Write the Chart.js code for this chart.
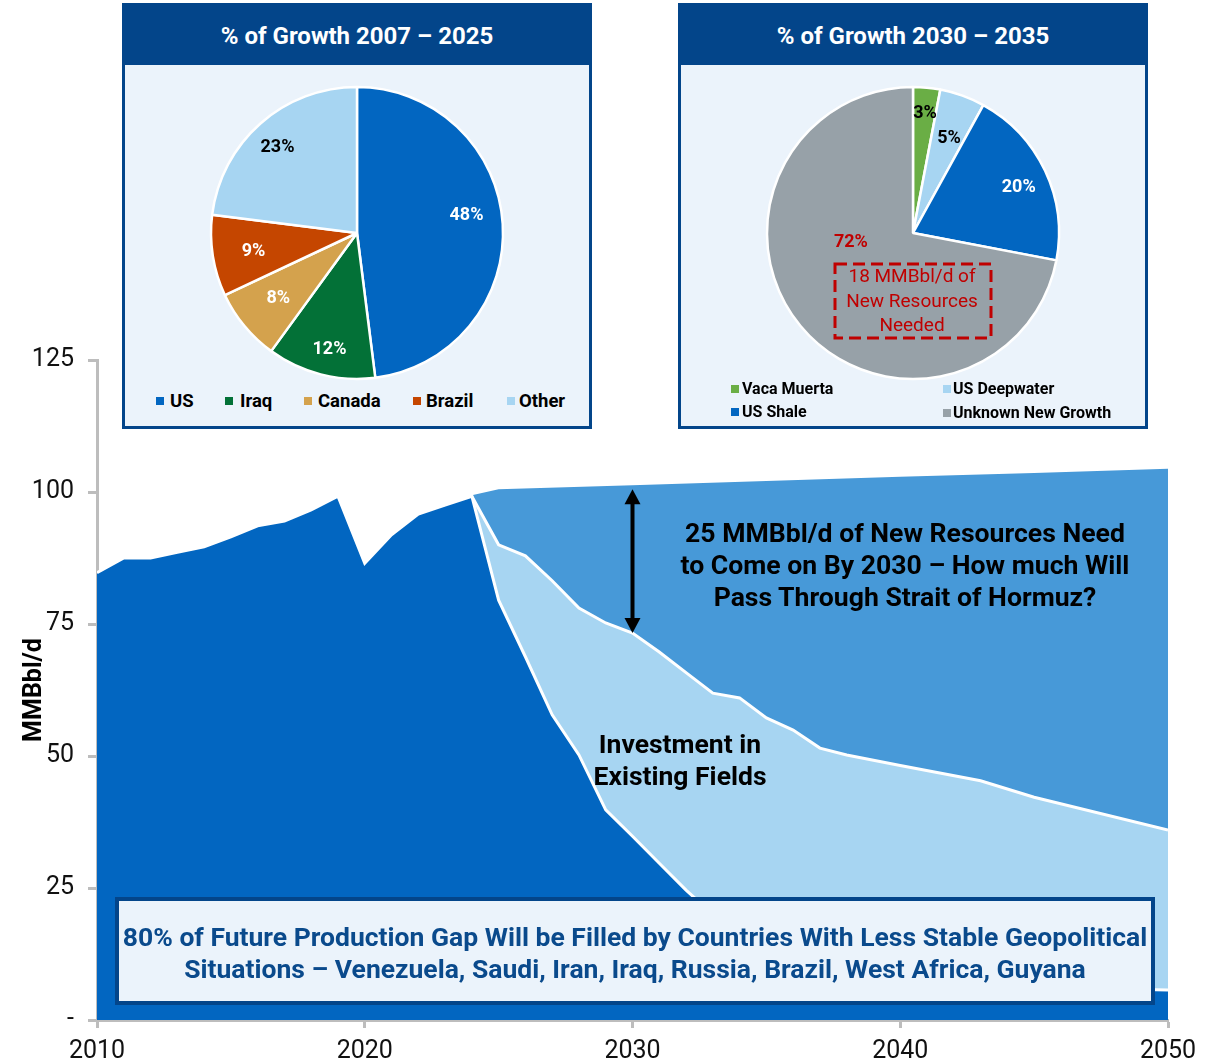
<!DOCTYPE html>
<html>
<head>
<meta charset="utf-8">
<script src="https://cdn.jsdelivr.net/npm/chart.js@4.4.1/dist/chart.umd.min.js"></script>
<style>
  html, body { margin: 0; padding: 0; background: #fff; }
  body { width: 1221px; height: 1064px; position: relative; overflow: hidden; font-family: Roboto, "Liberation Sans", sans-serif; }
  #main { position: absolute; left: 0; top: 0; }
  .note { position: absolute; text-align: center; font-weight: 700; color: #000; white-space: nowrap; }
  .panel { position: absolute; top: 3px; width: 464px; height: 420px; background: #EBF3FB; border: 3px solid #03458A; }
  .panel .head { position: absolute; left: 0; top: 0; right: 0; height: 59px; background: #03458A; color: #fff;
                 font-weight: 700; font-size: 24px; line-height: 60px; text-align: center; }
  .pie { position: absolute; }
  .leg { position: absolute; font-weight: 700; color: #000; white-space: nowrap; }
  .leg i { position: absolute; width: 8px; height: 8px; }
  .callout { position: absolute; left: 115px; top: 897px; width: 1032px; height: 100px; background: #EBF3FB;
             border: 4px solid #03458A; }
  .callout div { position: absolute; left: -20px; right: -20px; top: 20px; text-align: center; font-weight: 700; font-size: 26.5px;
                 line-height: 32px; color: #0A4A8C; white-space: nowrap; }
  .dashbox { position: absolute; left: 833px; top: 262px; }
  .dashtext { position: absolute; left: 812px; top: 264px; width: 200px; text-align: center; color: #C00000;
              font-size: 19px; line-height: 24.5px; white-space: nowrap; }
</style>
</head>
<body>
<canvas id="main" width="1221" height="1064"></canvas>

<div class="note" style="left:605px; top:517px; width:600px; font-size:26.6px; line-height:32px;">25 MMBbl/d of New Resources Need<br>to Come on By 2030 – How much Will<br>Pass Through Strait of Hormuz?</div>
<div class="note" style="left:530px; top:728px; width:300px; font-size:26.5px; line-height:32px;">Investment in<br>Existing Fields</div>

<div class="callout"><div>80% of Future Production Gap Will be Filled by Countries With Less Stable Geopolitical<br>Situations – Venezuela, Saudi, Iran, Iraq, Russia, Brazil, West Africa, Guyana</div></div>

<div class="panel" style="left:122px;"><div class="head">% of Growth 2007 – 2025</div></div>
<div class="panel" style="left:678px;"><div class="head">% of Growth 2030 – 2035</div></div>

<canvas id="pieA" class="pie" width="310" height="310" style="left:202px; top:78px;"></canvas>
<canvas id="pieB" class="pie" width="310" height="310" style="left:758px; top:78px;"></canvas>

<div id="legA"></div>
<div id="legB"></div>

<svg class="dashbox" width="160" height="78" viewBox="0 0 160 78">
  <rect x="2" y="2" width="156" height="74" fill="none" stroke="#C00000" stroke-width="3" stroke-dasharray="12 6"/>
</svg>
<div class="dashtext">18 MMBbl/d of<br>New Resources<br>Needed</div>

<script>
// ---- Global oil supply outlook (MMBbl/d) ----
const historyYears = [2010, 2011, 2012, 2013, 2014, 2015, 2016, 2017, 2018, 2019, 2020, 2021, 2022, 2023, 2024];
const historyOutput = [84.7, 87.5, 87.5, 88.6, 89.6, 91.5, 93.6, 94.5, 96.6, 99.2, 86.5, 91.9, 95.8, 97.5, 99.2];

// existing fields with no further investment
const declineYears = [2025, 2026, 2027, 2028, 2029, 2030, 2031, 2032, 2033, 2034, 2035, 2036, 2037, 2038, 2040, 2045, 2050];
const declineOutput = [79.5, 68.8, 57.8, 50.2, 39.8, 34.8, 29.7, 24.6, 20.0, 16.0, 12.5, 10.0, 8.5, 7.5, 6.8, 6.2, 5.7];

// existing fields with continued investment
const investedYears = [2024, 2025, 2026, 2027, 2028, 2029, 2030, 2031, 2032, 2033, 2034, 2035, 2036, 2037, 2038, 2040, 2043, 2045, 2050];
const investedOutput = [99.2, 90.0, 87.9, 83.2, 78.0, 75.2, 73.3, 69.7, 65.8, 61.9, 61.0, 57.2, 54.9, 51.5, 50.2, 48.2, 45.3, 42.2, 36.0];

// required supply
const demandYears = [2024, 2025, 2030, 2035, 2040, 2045, 2050];
const demandOutput = [99.4, 100.5, 101.3, 102.1, 102.9, 103.6, 104.4];

const yTicks = [0, 25, 50, 75, 100, 125];
const xTicks = [2010, 2020, 2030, 2040, 2050];
const gapYear = 2030;

// ---- Pie inputs ----
const pastGrowthLabels = ['US', 'Iraq', 'Canada', 'Brazil', 'Other'];
const pastGrowthShares = [48, 12, 8, 9, 23];
const futureGrowthLabels = ['Vaca Muerta', 'US Deepwater', 'US Shale', 'Unknown New Growth'];
const futureGrowthShares = [3, 5, 20, 72];

// ---- styles ----
const DARK = '#0266C1', MID = '#4799D8', LIGHT = '#A7D5F2', AXIS = '#BDBDBD';
const pastColors = ['#0266C1', '#037137', '#D4A24D', '#C54600', '#A7D5F2'];
const futureColors = ['#6AAE45', '#A7D5F2', '#0266C1', '#97A1A8'];

Chart.defaults.font.family = 'Roboto, "Liberation Sans", sans-serif';
Chart.defaults.color = '#111';

const toPoints = (xs, ys) => xs.map((x, i) => ({ x: x, y: ys[i] }));

const gapArrow = {
  id: 'gapArrow',
  afterDatasetsDraw(chart) {
    const { ctx, scales } = chart;
    const x = scales.x.getPixelForValue(gapYear);
    const yTop = scales.y.getPixelForValue(demandOutput[demandYears.indexOf(gapYear)]) + 4;
    const yBot = scales.y.getPixelForValue(investedOutput[investedYears.indexOf(gapYear)]);
    const head = 15, half = 8;
    ctx.save();
    ctx.strokeStyle = '#000';
    ctx.fillStyle = '#000';
    ctx.lineWidth = 4;
    ctx.beginPath();
    ctx.moveTo(x, yTop + head - 2);
    ctx.lineTo(x, yBot - head + 2);
    ctx.stroke();
    ctx.beginPath();
    ctx.moveTo(x, yTop); ctx.lineTo(x - half, yTop + head); ctx.lineTo(x + half, yTop + head); ctx.closePath();
    ctx.fill();
    ctx.beginPath();
    ctx.moveTo(x, yBot); ctx.lineTo(x - half, yBot - head); ctx.lineTo(x + half, yBot - head); ctx.closePath();
    ctx.fill();
    ctx.restore();
  }
};

new Chart(document.getElementById('main'), {
  type: 'line',
  data: {
    datasets: [
      {
        label: 'Existing fields, no investment',
        data: toPoints(historyYears.concat(declineYears), historyOutput.concat(declineOutput)),
        backgroundColor: DARK, borderColor: '#fff', borderWidth: 3, fill: 'origin'
      },
      {
        label: 'Investment in existing fields',
        data: toPoints(investedYears, investedOutput),
        backgroundColor: LIGHT, borderColor: '#fff', borderWidth: 3, fill: 'origin'
      },
      {
        label: 'New resources needed',
        data: toPoints(demandYears, demandOutput),
        backgroundColor: MID, borderColor: MID, borderWidth: 0, fill: 'origin'
      }
    ]
  },
  options: {
    responsive: false, animation: false, devicePixelRatio: 1,
    layout: { padding: { top: 360, right: 53, left: 0, bottom: 0 } },
    elements: { point: { radius: 0 }, line: { tension: 0, borderJoinStyle: 'miter' } },
    plugins: { legend: { display: false }, tooltip: { enabled: false } },
    scales: {
      x: {
        type: 'linear', min: 2010, max: 2050,
        afterFit(s) { s.height = 44; },
        afterBuildTicks(s) { s.ticks = xTicks.map(v => ({ value: v })); },
        ticks: { callback: v => String(v), font: { size: 25 }, color: '#111', padding: 9, maxRotation: 0 },
        grid: { drawOnChartArea: false, tickLength: 8, tickWidth: 3, tickColor: AXIS, color: AXIS },
        border: { color: AXIS, width: 3 }
      },
      y: {
        min: 0, max: 125,
        afterFit(s) { s.width = 97; },
        afterBuildTicks(s) { s.ticks = yTicks.map(v => ({ value: v })); },
        ticks: { callback: v => (v === 0 ? '-' : String(v)), font: { size: 25 }, color: '#111', padding: 14 },
        grid: { drawOnChartArea: false, tickLength: 9, tickWidth: 3, tickColor: AXIS, color: AXIS },
        border: { color: AXIS, width: 3 },
        title: { display: true, text: 'MMBbl/d', font: { size: 25, weight: '700' }, color: '#000', padding: { top: 20, bottom: 0 } }
      }
    }
  },
  plugins: [gapArrow]
});

// value labels inside slices; r = fraction of radius, turn = degrees from the slice middle
const sliceLabels = {
  id: 'sliceLabels',
  afterDatasetsDraw(chart, args, opts) {
    const ctx = chart.ctx;
    const meta = chart.getDatasetMeta(0);
    const values = chart.data.datasets[0].data;
    ctx.save();
    ctx.font = '700 18px Roboto, "Liberation Sans", sans-serif';
    ctx.textAlign = 'center';
    ctx.textBaseline = 'middle';
    meta.data.forEach((arc, i) => {
      const p = opts.place[i];
      const a = (arc.startAngle + arc.endAngle) / 2 + p.turn * Math.PI / 180;
      const r = arc.outerRadius * p.r;
      ctx.fillStyle = opts.colors[i];
      ctx.fillText(values[i] + '%', arc.x + Math.cos(a) * r, arc.y + Math.sin(a) * r);
    });
    ctx.restore();
  }
};

function pie(id, labels, values, colors, labelColors, place) {
  new Chart(document.getElementById(id), {
    type: 'pie',
    data: { labels: labels, datasets: [{ data: values, backgroundColor: colors, borderColor: '#fff', borderWidth: 2.5 }] },
    options: {
      responsive: false, animation: false, devicePixelRatio: 1, radius: 146,
      layout: { padding: 0 },
      plugins: { legend: { display: false }, tooltip: { enabled: false }, sliceLabels: { colors: labelColors, place: place } }
    },
    plugins: [sliceLabels]
  });
}

pie('pieA', pastGrowthLabels, pastGrowthShares, pastColors,
  ['#fff', '#fff', '#fff', '#fff', '#000'],
  [{ r: 0.76, turn: -5.7 }, { r: 0.82, turn: -1.1 }, { r: 0.70, turn: 0 }, { r: 0.72, turn: -0.9 }, { r: 0.80, turn: -1.5 }]);

pie('pieB', futureGrowthLabels, futureGrowthShares, futureColors,
  ['#000', '#000', '#fff', '#C00000'],
  [{ r: 0.82, turn: 0.4 }, { r: 0.69, turn: 1.2 }, { r: 0.79, turn: 1.7 }, { r: 0.43, turn: 31.3 }]);

// HTML legends
function legend(hostId, labels, colors, spots, size) {
  const host = document.getElementById(hostId);
  labels.forEach((name, i) => {
    const s = spots[i];
    const el = document.createElement('div');
    el.className = 'leg';
    el.style.left = s[0] + 'px';
    el.style.top = (s[1] - size * 0.6) + 'px';
    el.style.fontSize = size + 'px';
    el.style.lineHeight = (size * 1.2) + 'px';
    el.style.paddingLeft = s[2] + 'px';
    const sw = document.createElement('i');
    sw.style.background = colors[i];
    sw.style.left = '0px';
    sw.style.top = (size * 0.6 - 4) + 'px';
    el.appendChild(sw);
    el.appendChild(document.createTextNode(name));
    host.appendChild(el);
  });
}
legend('legA', pastGrowthLabels, pastColors,
  [[156, 401, 14], [225, 401, 15], [304, 401, 14], [413, 401, 13], [507, 401, 12]], 18.5);
legend('legB', futureGrowthLabels, futureColors,
  [[731, 389, 11], [943, 389, 10], [731, 412, 11], [943, 413, 10]], 16);
</script>
</body>
</html>
